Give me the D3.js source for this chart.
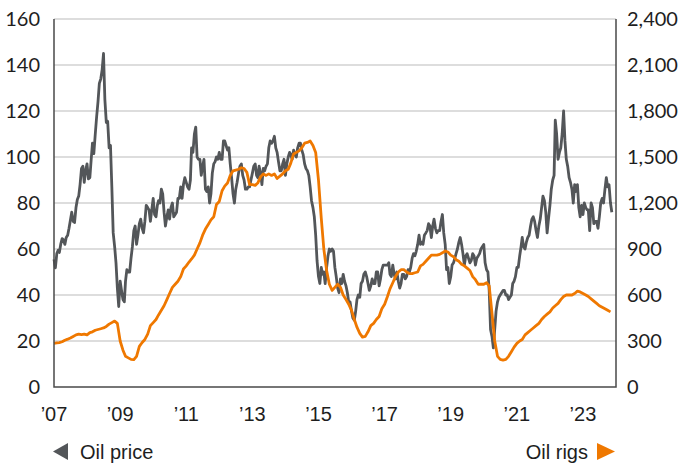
<!DOCTYPE html>
<html>
<head>
<meta charset="utf-8">
<script src="https://cdn.jsdelivr.net/npm/d3@7"></script>
<style>
  body { margin: 0; background: #fff; }
  .ytick { font-family: Lato, "Liberation Sans", sans-serif; font-size: 20px; fill: #1e1e1e; }
  .xtick, .legend { font-family: "Liberation Sans", Arial, sans-serif; font-size: 20px; fill: #1e1e1e; }
</style>
</head>
<body>
<div id="chart"></div>
<script>
// Oil price (USD/bbl), two readings per month (1st, 16th), Jan 2007 - Nov 2023
var oilPrice = [
  55.5, 51.8, 58, 59.5, 58.5, 62, 64.5, 64, 62, 65, 66, 69, 72.5, 76, 72, 71.5, 78, 81.5, 83, 88, 95, 96, 89, 94,
  97, 90.5, 91, 99, 106, 101.5, 110, 117.5, 124, 132, 134, 138, 145, 125, 115, 115.5, 104, 105, 87, 67, 61, 54, 43, 35,
  46, 42, 38, 37, 46, 51, 50, 50, 56, 61, 68, 70, 62, 66, 71, 73, 69, 67, 72, 79, 78, 77, 72, 77,
  82, 75, 74, 79, 81, 80, 86, 84, 76, 70, 74, 77, 73, 78, 80, 74, 75, 76, 82, 82, 87, 82, 88, 91,
  89, 87, 86, 90, 104, 102, 110, 113, 100, 99, 99, 92, 96, 99, 86, 85, 87, 80, 84, 93, 97, 98, 100, 99,
  102, 99, 99, 107, 107, 105, 103, 104, 97, 91, 84, 80, 86, 89, 93, 96, 97, 92, 90, 86, 86, 87, 87, 90,
  93, 96, 97, 92, 91, 96, 93, 88, 95, 94, 96, 97, 104, 107, 106, 107, 109, 104, 102, 98, 94, 94, 97, 99,
  92, 97, 100, 102, 101, 99, 103, 101, 100, 104, 106, 106, 103, 101, 97, 95, 94, 92, 87, 81, 78, 74, 66, 55,
  48, 45, 52, 49, 50, 45, 52, 57, 60, 59, 60, 59, 52, 48, 43, 41, 47, 45, 49, 46, 44, 41, 37, 37,
  33, 30, 29, 33, 38, 40, 39, 45, 46, 49, 50, 48, 45, 42, 44, 47, 45, 45, 50, 50, 44, 47, 51, 53,
  53, 53, 53, 54, 49, 48, 53, 49, 47, 50, 46, 43, 45, 49, 49, 47, 48, 51, 50, 52, 56, 58, 57, 59,
  62, 66, 62, 63, 62, 66, 67, 68, 71, 70, 65, 70, 73, 69, 67, 68, 68, 72, 75, 67, 62, 51, 52, 45,
  48, 53, 54, 56, 58, 60, 63, 65, 62, 58, 53, 57, 58, 56, 54, 55, 58, 57, 53, 56, 57, 58, 60, 61,
  62, 54, 51, 50, 42, 25, 22, 17, 25, 33, 37, 39, 40, 41, 42, 42, 40, 40, 38, 39, 40, 45, 46, 48,
  52, 52, 57, 61, 65, 61, 60, 63, 65, 66, 70, 73, 74, 72, 68, 65, 70, 73, 78, 83, 81, 76, 67, 73,
  79, 86, 90, 92, 116, 110, 99, 102, 104, 110, 120, 107, 99, 96, 91, 89, 86, 80, 88, 85, 88, 78, 74, 79,
  75, 80, 78, 77, 77, 68, 80, 78, 71, 72, 72, 69, 74, 80, 82, 80, 86, 91, 87, 88, 80, 76
];

// US oil rigs in operation, monthly, Jan 2007 - Nov 2023
var oilRigs = [
  285, 288, 290, 295, 305, 312, 320, 330, 340, 345, 342, 345,
  340, 355, 360, 370, 375, 380, 385, 395, 410, 420, 430, 415,
  300, 240, 200, 190, 180, 178, 200, 265, 290, 310, 345, 400,
  420, 440, 470, 500, 530, 570, 610, 650, 670, 690, 720, 770,
  790, 815, 835, 860, 900, 940, 990, 1030, 1060, 1090, 1110, 1190,
  1210, 1280, 1310, 1330, 1380, 1410, 1415, 1420, 1430, 1425, 1400, 1320,
  1320, 1315, 1330, 1370, 1390, 1380, 1390, 1380, 1390, 1360, 1375, 1390,
  1410, 1420, 1460, 1520, 1530, 1540, 1560, 1590, 1595, 1605, 1575, 1530,
  1350, 1100, 900, 760, 670, 630, 650, 670, 650, 600, 570, 540,
  500, 440, 390, 350, 325, 330, 360, 400, 415, 440, 460, 510,
  540, 590, 640, 680, 720, 750, 765, 765, 750, 740, 740, 745,
  750, 790, 800, 820, 840, 860, 860, 860, 865, 875, 887, 880,
  860, 850, 830, 820, 800, 790, 775, 760, 720, 700, 670, 670,
  670, 680, 660, 480, 300, 200, 180, 175, 180, 200, 230, 260,
  285, 300, 310, 340, 355, 370, 385, 400, 415, 440, 460, 475,
  490, 515, 530, 545, 570, 590, 600, 600, 600, 610, 625, 620,
  610, 600, 590, 575, 560, 545, 530, 520, 510, 500, 490
];

var xTickYears = [2007, 2009, 2011, 2013, 2015, 2017, 2019, 2021, 2023];
var xTickLabels = ["’07", "’09", "’11", "’13", "’15", "’17", "’19", "’21", "’23"];
var leftTicks = [0, 20, 40, 60, 80, 100, 120, 140, 160];
var rightTicks = [0, 300, 600, 900, 1200, 1500, 1800, 2100, 2400];
var legendLabels = ["Oil price", "Oil rigs"];

var grey = "#535659", orange = "#ef7800";

var priceData = oilPrice.map(function(v, i) {
  return {date: new Date(2007 + Math.floor(i / 24), Math.floor((i % 24) / 2), i % 2 ? 16 : 1), value: v};
});
var rigData = oilRigs.map(function(v, i) {
  return {date: new Date(2007 + Math.floor(i / 12), i % 12, 1), value: v};
});

var svg = d3.select("#chart").append("svg")
    .attr("width", 685)
    .attr("height", 465);

var x = d3.scaleTime()
    .domain([new Date(2007, 0, 1), new Date(2024, 0, 1)])
    .range([54, 616]);
var yL = d3.scaleLinear().domain([0, 160]).range([387, 19]);
var yR = d3.scaleLinear().domain([0, 2400]).range([387, 19]);

// gridlines
svg.selectAll("line.grid")
    .data(leftTicks.slice(1))
  .enter().append("line")
    .attr("class", "grid")
    .attr("x1", 54).attr("x2", 616)
    .attr("y1", function(d) { return yL(d); })
    .attr("y2", function(d) { return yL(d); })
    .style("stroke", "#d2d2d2")
    .style("stroke-width", 1.5);

// left ticks
svg.selectAll("text.yl")
    .data(leftTicks)
  .enter().append("text")
    .attr("class", "ytick yl")
    .attr("x", 40)
    .attr("y", function(d) { return yL(d); })
    .attr("dy", "0.35em")
    .attr("text-anchor", "end")
    .text(function(d) { return d; });

// right ticks
svg.selectAll("text.yr")
    .data(rightTicks)
  .enter().append("text")
    .attr("class", "ytick yr")
    .attr("x", 627)
    .attr("y", function(d) { return yR(d); })
    .attr("dy", "0.35em")
    .text(function(d) { return d3.format(",")(d); });

// x ticks
svg.selectAll("text.xtick")
    .data(xTickYears)
  .enter().append("text")
    .attr("class", "xtick")
    .attr("x", function(d) { return x(new Date(d, 0, 1)); })
    .attr("y", 421)
    .attr("text-anchor", "middle")
    .text(function(d, i) { return xTickLabels[i]; });

// lines
var priceLine = d3.line()
    .x(function(d) { return x(d.date); })
    .y(function(d) { return yL(d.value); });
var rigLine = d3.line()
    .x(function(d) { return x(d.date); })
    .y(function(d) { return yR(d.value); });

svg.append("path")
    .datum(priceData)
    .attr("d", priceLine)
    .style("fill", "none")
    .style("stroke", grey)
    .style("stroke-width", 2.8)
    .style("stroke-linejoin", "round");

svg.append("path")
    .datum(rigData)
    .attr("d", rigLine)
    .style("fill", "none")
    .style("stroke", orange)
    .style("stroke-width", 2.8)
    .style("stroke-linejoin", "round");

// frame: left, bottom, right
svg.append("path")
    .attr("d", "M54,19V387H616V19")
    .style("fill", "none")
    .style("stroke", "#4a4a4a")
    .style("stroke-width", 1.5);

// legend
svg.append("path")
    .attr("d", "M53,451.5L68,443V460Z")
    .style("fill", grey);
svg.append("text")
    .attr("class", "legend")
    .attr("x", 80).attr("y", 459)
    .text(legendLabels[0]);

svg.append("path")
    .attr("d", "M615,451.5L597,443V460Z")
    .style("fill", orange);
svg.append("text")
    .attr("class", "legend")
    .attr("x", 588).attr("y", 459)
    .attr("text-anchor", "end")
    .text(legendLabels[1]);
</script>
</body>
</html>
